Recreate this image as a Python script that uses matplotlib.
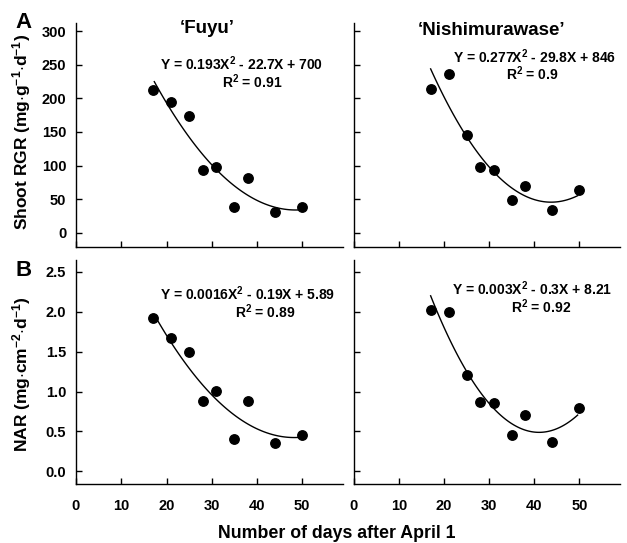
import numpy as np
import matplotlib.pyplot as plt

plt.rcParams['font.family'] = ['Liberation Sans', 'DejaVu Sans']
plt.rcParams['font.weight'] = 'bold'
plt.rcParams['axes.labelweight'] = 'bold'
plt.rcParams['mathtext.fontset'] = 'custom'
plt.rcParams['mathtext.rm'] = 'Liberation Sans:bold'
plt.rcParams['mathtext.bf'] = 'Liberation Sans:bold'
plt.rcParams['mathtext.default'] = 'rm'

# days after April 1
days = [17, 21, 25, 28, 31, 35, 38, 44, 50]

rgr_fuyu = [213, 195, 174, 93, 98, 39, 81, 31, 38]
rgr_nishi = [214, 236, 146, 98, 93, 49, 70, 34, 64]
nar_fuyu = [1.92, 1.67, 1.49, 0.88, 1.01, 0.40, 0.88, 0.35, 0.46]
nar_nishi = [2.02, 2.00, 1.21, 0.87, 0.85, 0.45, 0.70, 0.37, 0.79]

eq_text = {
    'rgr_fuyu': ('Y = 0.193X$^2$ - 22.7X + 700', 'R$^2$ = 0.91'),
    'rgr_nishi': ('Y = 0.277X$^2$ - 29.8X + 846', 'R$^2$ = 0.9'),
    'nar_fuyu': ('Y = 0.0016X$^2$ - 0.19X + 5.89', 'R$^2$ = 0.89'),
    'nar_nishi': ('Y = 0.003X$^2$ - 0.3X + 8.21', 'R$^2$ = 0.92'),
}

W, H = 627, 543
fig = plt.figure(figsize=(W / 100, H / 100), dpi=100)


def add_ax(x0, y0, x1, y1):
    return fig.add_axes([x0 / W, 1 - y1 / H, (x1 - x0) / W, (y1 - y0) / H])


ax_tl = add_ax(76, 23, 343, 247)
ax_tr = add_ax(354, 23, 620, 247)
ax_bl = add_ax(76, 260, 343, 484)
ax_br = add_ax(354, 260, 620, 484)


def draw(ax, y, key, eq_pos, r_pos, x_range):
    ax.plot(days, y, 'o', color='black', markersize=6.8, zorder=3)
    # quadratic trend line fitted to the points
    coef = np.polyfit(days, y, 2)
    xs = np.linspace(x_range[0], x_range[1], 100)
    ax.plot(xs, np.polyval(coef, xs), color='black', lw=1)
    eq, r2 = eq_text[key]
    ax.text(eq_pos[0], eq_pos[1], eq, ha='center', va='center', fontsize=10)
    ax.text(r_pos[0], r_pos[1], r2, ha='center', va='center', fontsize=10)
    ax.set_xlim(0, 59)
    ax.set_xticks([0, 10, 20, 30, 40, 50])
    for s in ['top', 'right']:
        ax.spines[s].set_visible(False)
    for s in ['left', 'bottom']:
        ax.spines[s].set_linewidth(1)
    ax.tick_params(direction='in', length=4, width=1, labelsize=10.5)
    ax.tick_params(axis='x', pad=11)
    ax.tick_params(axis='y', pad=7)


draw(ax_tl, rgr_fuyu, 'rgr_fuyu', (36.5, 251), (38.9, 224), (17.3, 49))
draw(ax_tr, rgr_nishi, 'rgr_nishi', (40.1, 262), (39.6, 236), (17.0, 49.6))
draw(ax_bl, nar_fuyu, 'nar_fuyu', (38.0, 2.23), (41.9, 2.0), (17.5, 49))
draw(ax_br, nar_nishi, 'nar_nishi', (39.6, 2.29), (41.5, 2.06), (17.0, 49.6))

for ax in [ax_tl, ax_tr]:
    ax.set_ylim(-21, 312)
    ax.set_yticks([0, 50, 100, 150, 200, 250, 300])
    ax.tick_params(labelbottom=False)
for ax in [ax_bl, ax_br]:
    ax.set_ylim(-0.16, 2.65)
    ax.set_yticks([0, 0.5, 1.0, 1.5, 2.0, 2.5])
    ax.set_yticklabels(['0.0', '0.5', '1.0', '1.5', '2.0', '2.5'])
for ax in [ax_tr, ax_br]:
    ax.tick_params(labelleft=False)
for ax in [ax_tl, ax_tr, ax_bl, ax_br]:
    plt.setp(ax.get_xticklabels() + ax.get_yticklabels(), fontweight='bold')

ax_tl.set_ylabel(r'Shoot RGR (mg$\cdot$g$^{-1}$$\cdot$d$^{-1}$)', fontsize=12.5)
ax_tl.yaxis.set_label_coords(-0.16, 0.515)
ax_bl.set_ylabel(r'NAR (mg$\cdot$cm$^{-2}$$\cdot$d$^{-1}$)', fontsize=12.5)
ax_bl.yaxis.set_label_coords(-0.16, 0.49)

ax_tl.text(29, 304, '\u2018Fuyu\u2019', ha='center', va='center', fontsize=13.5)
ax_tr.text(30.5, 301, '\u2018Nishimurawase\u2019', ha='center', va='center', fontsize=13.5)

fig.text(23 / W, 1 - 22 / H, 'A', ha='center', va='center', fontsize=16)
fig.text(24 / W, 1 - 270 / H, 'B', ha='center', va='center', fontsize=16)
fig.text(337 / W, 1 - 533 / H, 'Number of days after April 1', ha='center', va='center', fontsize=12.8)

fig.savefig('out.png', dpi=100)
